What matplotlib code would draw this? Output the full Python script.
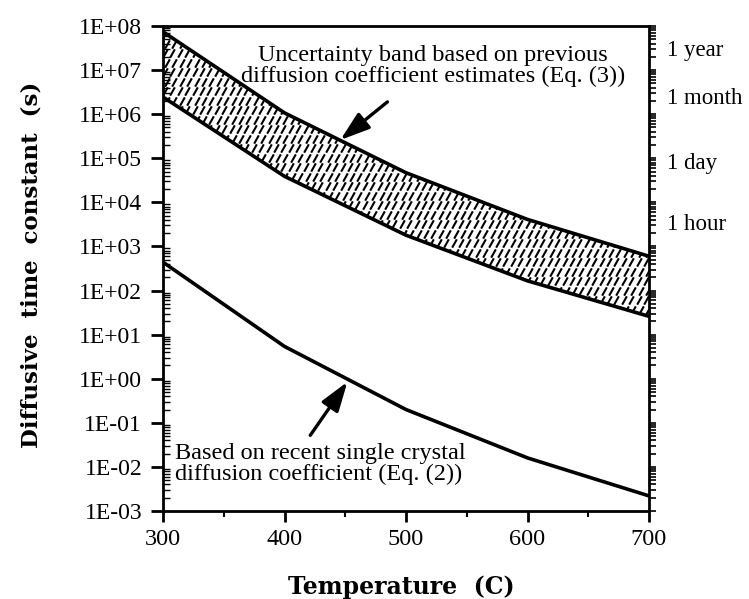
import numpy as np
import matplotlib.pyplot as plt
from matplotlib.path import Path
from matplotlib.ticker import FixedLocator, FuncFormatter, LogLocator, MultipleLocator, NullFormatter

# values
temperature = [300, 400, 500, 600, 700]
band_upper = [7.4e7, 1.07e6, 4.7e4, 4.1e3, 6.0e2]
band_lower = [2.45e6, 3.9e4, 1.8e3, 1.66e2, 2.6e1]
single_crystal = [4.4e2, 5.4, 0.20, 0.016, 0.0022]

time_labels = ["1 year", "1 month", "1 day", "1 hour"]
time_seconds = [3.15e7, 2.6e6, 8.64e4, 3.6e3]

serif = "Liberation Serif"
bold_serif = "DejaVu Serif"

fig = plt.figure(figsize=(7.49, 5.99), dpi=100)
ax = fig.add_axes([163 / 749, 1 - 511 / 599, 486 / 749, 485 / 599])

ax.set_yscale("log")
ax.set_xlim(300, 700)
ax.set_ylim(1e-3, 1e8)

# hatched uncertainty band (short slanted dashes)
band = ax.fill_between(temperature, band_lower, band_upper, facecolor="white", edgecolor="none")
gx, gy = np.meshgrid(np.arange(0.004, 1, 7.4 / 486), np.arange(0.004, 1, 9.5 / 485))
gx = gx + (np.arange(gy.shape[0])[:, None] % 2) * 2.0 / 486
dash = Path([(-0.28, -0.5), (0.28, 0.5)], [Path.MOVETO, Path.LINETO])
hatch, = ax.plot(gx.ravel(), gy.ravel(), ls="none", marker=dash, ms=6, mew=1.5,
                 color="black", transform=ax.transAxes)
hatch.set_clip_path(band.get_paths()[0], ax.transData)

ax.plot(temperature, band_upper, color="black", lw=2.6)
ax.plot(temperature, band_lower, color="black", lw=2.6)
ax.plot(temperature, single_crystal, color="black", lw=2.6)

for s in ax.spines.values():
    s.set_linewidth(2)

# ticks
ax.xaxis.set_major_locator(MultipleLocator(100))
ax.xaxis.set_minor_locator(MultipleLocator(50))
ax.yaxis.set_major_locator(LogLocator(base=10, numticks=20))
ax.yaxis.set_minor_locator(LogLocator(base=10, subs=np.arange(2, 10), numticks=20))
ax.yaxis.set_minor_formatter(NullFormatter())
ax.yaxis.set_major_formatter(FuncFormatter(lambda v, p: "1E%+03d" % int(round(np.log10(v)))))

ax.tick_params(axis="x", which="major", direction="out", length=8, width=2, pad=5, labelsize=17.5)
ax.tick_params(axis="x", which="minor", direction="out", length=4, width=1.5)
ax.tick_params(axis="y", which="major", direction="out", length=9, width=2, pad=6,
               labelsize=17, right=True)
ax.tick_params(axis="y", which="minor", direction="in", length=5, width=1, right=False)
for lab in ax.get_xticklabels() + ax.get_yticklabels():
    lab.set_fontfamily(serif)

# right axis with time scale
ax2 = ax.twinx()
ax2.set_yscale("log")
ax2.set_ylim(ax.get_ylim())
ax2.yaxis.set_major_locator(FixedLocator(time_seconds))
ax2.set_yticklabels(time_labels, fontsize=16.5, fontfamily=serif)
ax2.yaxis.set_minor_locator(LogLocator(base=10, subs=np.arange(1, 10), numticks=20))
ax2.yaxis.set_minor_formatter(NullFormatter())
ax2.tick_params(axis="y", which="major", length=0, pad=13)
ax2.tick_params(axis="y", which="minor", direction="out", length=5, width=1.2)
for s in ax2.spines.values():
    s.set_visible(False)

# annotations
arrow = dict(arrowstyle="-|>,head_length=0.9,head_width=0.3", lw=2.4, color="black",
             shrinkA=0, shrinkB=0, mutation_scale=20)
ax.annotate("", xy=(446, 2.6e5), xytext=(484.7, 1.9e6), arrowprops=arrow)
ax.annotate("", xy=(451.8, 0.85), xytext=(421.2, 0.052), arrowprops=arrow)

ax.text(0.556, 0.918,
        "Uncertainty band based on previous\ndiffusion coefficient estimates (Eq. (3))",
        transform=ax.transAxes, ha="center", va="center", fontsize=17.5,
        fontfamily=serif, linespacing=1.0)
ax.text(0.025, 0.097,
        "Based on recent single crystal\ndiffusion coefficient (Eq. (2))",
        transform=ax.transAxes, ha="left", va="center", fontsize=17.5,
        fontfamily=serif, linespacing=1.0)

fig.text(32 / 749, 1 - 265 / 599, "Diffusive  time  constant  (s)", rotation=90,
         ha="center", va="center", fontsize=16.5, fontweight="bold", fontfamily=bold_serif)
fig.text(401 / 749, 1 - 587 / 599, "Temperature  (C)", ha="center", va="center",
         fontsize=17, fontweight="bold", fontfamily=bold_serif)

fig.savefig("out.png", dpi=100)
